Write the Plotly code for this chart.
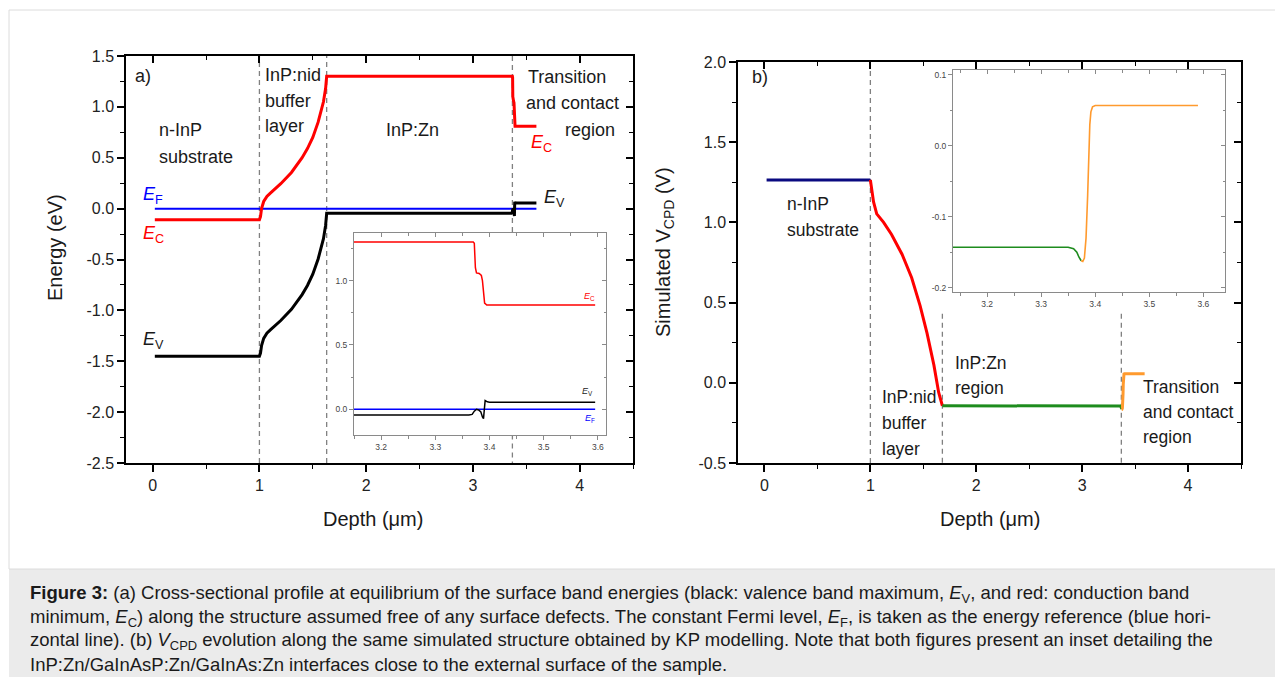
import plotly.graph_objects as go

FONT = "Liberation Sans, Arial, Helvetica, sans-serif"
W, H = 1275, 677

# ---------------- data ----------------
# Panel a: band edges (eV) vs depth (um)
ec_depth = [0.02, 1.0, 1.01, 1.02, 1.04, 1.07, 1.1, 1.15, 1.2, 1.3, 1.4, 1.45, 1.5, 1.55, 1.6, 1.62, 1.63,
            3.370, 3.372, 3.374, 3.376, 3.381, 3.385, 3.387, 3.389, 3.391, 3.395, 3.595]
ec_energy = [-0.11, -0.11, -0.08, 0.0, 0.07, 0.12, 0.15, 0.195, 0.245, 0.355, 0.50, 0.59, 0.70, 0.85, 1.05, 1.18, 1.30,
             1.30, 1.29, 1.10, 1.06, 1.055, 1.04, 1.00, 0.88, 0.825, 0.81, 0.81]
ev_depth = [0.02, 1.0, 1.01, 1.02, 1.04, 1.07, 1.1, 1.15, 1.2, 1.3, 1.4, 1.45, 1.5, 1.55, 1.6, 1.62, 1.63,
            3.362, 3.368, 3.372, 3.376, 3.380, 3.384, 3.387, 3.389, 3.3905, 3.392, 3.396, 3.40, 3.595]
ev_energy = [-1.45, -1.45, -1.42, -1.345, -1.275, -1.225, -1.195, -1.15, -1.10, -0.99, -0.845, -0.755, -0.645,
             -0.495, -0.295, -0.165, -0.045,
             -0.045, -0.04, -0.015, 0.0, -0.005, -0.02, -0.06, -0.073, 0.0, 0.068, 0.058, 0.055, 0.055]
ef_depth = [0.02, 3.595]
ef_energy = [0.0, 0.0]
a_boundaries = [1.0, 1.63, 3.37]

# Panel b: simulated V_CPD (V) vs depth (um)
sub_depth = [0.02, 1.0]
sub_vcpd = [1.265, 1.265]
buf_depth = [1.0, 1.01, 1.02, 1.03, 1.06, 1.125, 1.2, 1.3, 1.39, 1.47, 1.535, 1.6, 1.645, 1.68]
buf_vcpd = [1.265, 1.22, 1.16, 1.128, 1.053, 1.0, 0.925, 0.80, 0.655, 0.48, 0.31, 0.11, -0.06, -0.143]
zn_depth = [1.68, 3.35, 3.36, 3.366, 3.370, 3.374]
zn_vcpd = [-0.143, -0.143, -0.145, -0.150, -0.157, -0.162]
tr_depth = [3.374, 3.377, 3.380, 3.383, 3.386, 3.388, 3.390, 3.392, 3.395, 3.400, 3.59]
tr_vcpd = [-0.162, -0.163, -0.158, -0.130, -0.070, -0.010, 0.030, 0.048, 0.055, 0.057, 0.057]
b_boundaries = [1.0, 1.68, 3.37]

# Tick values / labels
x_ticks = [0, 1, 2, 3, 4]
x_labels = ["0", "1", "2", "3", "4"]
a_y_ticks = [-2.5, -2.0, -1.5, -1.0, -0.5, 0.0, 0.5, 1.0, 1.5]
a_y_labels = ["-2.5", "-2.0", "-1.5", "-1.0", "-0.5", "0.0", "0.5", "1.0", "1.5"]
b_y_ticks = [-0.5, 0.0, 0.5, 1.0, 1.5, 2.0]
b_y_labels = ["-0.5", "0.0", "0.5", "1.0", "1.5", "2.0"]
in_x_ticks = [3.2, 3.3, 3.4, 3.5, 3.6]
in_x_labels = ["3.2", "3.3", "3.4", "3.5", "3.6"]
ia_y_ticks = [0.0, 0.5, 1.0]
ia_y_labels = ["0.0", "0.5", "1.0"]
ib_y_ticks = [-0.2, -0.1, 0.0, 0.1]
ib_y_labels = ["-0.2", "-0.1", "0.0", "0.1"]

# ---------------- layout geometry ----------------
A_X = [126 / W, 633 / W]
A_Y = [1 - 463 / H, 1 - 56 / H]
B_X = [738 / W, 1241 / W]
B_Y = [1 - 463 / H, 1 - 62 / H]
IA_X = [354 / W, 606 / W]
IA_Y = [1 - 435 / H, 1 - 233 / H]
IB_X = [953 / W, 1225 / W]
IB_Y = [1 - 292 / H, 1 - 70 / H]

A_XR = [-0.25, 4.5]
A_YR = [-2.5, 1.5]
B_XR = [-0.25, 4.5]
B_YR = [-0.5, 2.0]
IA_XR = [3.15, 3.615]
IA_YR = [-0.2, 1.37]
IB_XR = [3.137, 3.64]
IB_YR = [-0.206, 0.107]

RED = "#ff0000"
BLUE = "#0000ff"
NAVY = "#0a0a80"
GREEN = "#1e8c1e"
ORANGE = "#ff9a2e"
DASH = "#808080"

fig = go.Figure()


def line(x, y, color, width, xa, ya, dash=None):
    fig.add_trace(go.Scatter(x=x, y=y, mode="lines", xaxis=xa, yaxis=ya,
                             line=dict(color=color, width=width, dash=dash),
                             showlegend=False, hoverinfo="skip"))


def dashed(bounds, y_full, y_parts, xa, ya):
    xs, ys = [], []
    for i, b in enumerate(bounds):
        for (y0, y1) in (y_parts[i] if i in y_parts else [y_full]):
            xs += [b, b, None]
            ys += [y0, y1, None]
    line(xs, ys, DASH, 1.3, xa, ya, dash="5px,4px")


# Panel a
dashed(a_boundaries, (A_YR[0], A_YR[1]), {2: [(A_YR[1], -0.24), (-2.22, A_YR[0])]}, "x", "y")
line(ef_depth, ef_energy, BLUE, 2, "x", "y")
line(ec_depth, ec_energy, RED, 3, "x", "y")
line(ev_depth, ev_energy, "black", 3, "x", "y")

# Inset a
line(ef_depth, ef_energy, BLUE, 1.5, "x2", "y2")
line(ec_depth, ec_energy, RED, 1.5, "x2", "y2")
line(ev_depth, ev_energy, "black", 1.5, "x2", "y2")

# Panel b
dashed(b_boundaries, (B_YR[0], B_YR[1]), {1: [(0.43, B_YR[0])], 2: [(0.43, B_YR[0])]}, "x3", "y3")
line(sub_depth, sub_vcpd, NAVY, 3, "x3", "y3")
line(buf_depth, buf_vcpd, RED, 3, "x3", "y3")
line(zn_depth, zn_vcpd, GREEN, 3, "x3", "y3")
line(tr_depth, tr_vcpd, ORANGE, 3, "x3", "y3")

# Inset b
line(zn_depth, zn_vcpd, GREEN, 1.6, "x4", "y4")
line(tr_depth, tr_vcpd, ORANGE, 1.6, "x4", "y4")

# dummy traces for mirrored (inward) top/right tick axes
for xa, ya in [("x5", "y"), ("x", "y5"), ("x6", "y3"), ("x3", "y6"),
               ("x7", "y2"), ("x2", "y7"), ("x8", "y4"), ("x4", "y8")]:
    fig.add_trace(go.Scatter(x=[None], y=[None], xaxis=xa, yaxis=ya, mode="lines",
                             showlegend=False, hoverinfo="skip"))


def axis(domain, rng, tv, tt, minor_dtick, anchor, color="black", lw=1.5, tl=7, mtl=4,
         fsize=16, fcolor="#222"):
    return dict(domain=domain, range=rng, anchor=anchor, tickmode="array", tickvals=tv, ticktext=tt,
                ticks="outside", ticklen=tl, tickwidth=lw, tickcolor=color, automargin=False,
                minor=dict(tickmode="linear", tick0=0, dtick=minor_dtick, ticks="outside",
                           ticklen=mtl, tickwidth=lw * 0.85, tickcolor=color, showgrid=False),
                showline=True, linecolor=color, linewidth=lw, showgrid=False, zeroline=False,
                tickfont=dict(size=fsize, color=fcolor, family=FONT), fixedrange=True)


def mirror(over, side, anchor, rng, tv, minor_dtick, color="black", lw=1.5, tl=7, mtl=4):
    return dict(overlaying=over, side=side, anchor=anchor, range=rng, tickmode="array", tickvals=tv,
                showticklabels=False, ticks="inside", ticklen=tl, tickwidth=lw, tickcolor=color,
                automargin=False,
                minor=dict(tickmode="linear", tick0=0, dtick=minor_dtick, ticks="inside",
                           ticklen=mtl, tickwidth=lw * 0.85, tickcolor=color, showgrid=False),
                showline=True, linecolor=color, linewidth=lw, showgrid=False, zeroline=False,
                fixedrange=True)


IN_COL = "#8a8a8a"
layout = dict(
    width=W, height=H, autosize=False,
    margin=dict(l=0, r=0, t=0, b=0, pad=0, autoexpand=False),
    paper_bgcolor="white", plot_bgcolor="white", showlegend=False,
    font=dict(family=FONT, color="#222", size=16),
    xaxis=axis(A_X, A_XR, x_ticks, x_labels, 0.5, "y"),
    yaxis=axis(A_Y, A_YR, a_y_ticks, a_y_labels, 0.25, "x"),
    xaxis2=axis(IA_X, IA_XR, in_x_ticks, in_x_labels, 0.05, "y2", color=IN_COL, lw=1, tl=4, mtl=2.5,
                fsize=8.5, fcolor="#444"),
    yaxis2=axis(IA_Y, IA_YR, ia_y_ticks, ia_y_labels, 0.25, "x2", color=IN_COL, lw=1, tl=4, mtl=2.5,
                fsize=8.5, fcolor="#444"),
    xaxis3=axis(B_X, B_XR, x_ticks, x_labels, 0.5, "y3"),
    yaxis3=axis(B_Y, B_YR, b_y_ticks, b_y_labels, 0.25, "x3"),
    xaxis4=axis(IB_X, IB_XR, in_x_ticks, in_x_labels, 0.05, "y4", color=IN_COL, lw=1, tl=4, mtl=2.5,
                fsize=8.5, fcolor="#444"),
    yaxis4=axis(IB_Y, IB_YR, ib_y_ticks, ib_y_labels, 0.05, "x4", color=IN_COL, lw=1, tl=4, mtl=2.5,
                fsize=8.5, fcolor="#444"),
    xaxis5=mirror("x", "top", "y", A_XR, x_ticks, 0.5),
    yaxis5=mirror("y", "right", "x", A_YR, a_y_ticks, 0.25),
    xaxis6=mirror("x3", "top", "y3", B_XR, x_ticks, 0.5),
    yaxis6=mirror("y3", "right", "x3", B_YR, b_y_ticks, 0.25),
    xaxis7=mirror("x2", "top", "y2", IA_XR, in_x_ticks, 0.05, color=IN_COL, lw=1, tl=4, mtl=2.5),
    yaxis7=mirror("y2", "right", "x2", IA_YR, ia_y_ticks, 0.25, color=IN_COL, lw=1, tl=4, mtl=2.5),
    xaxis8=mirror("x4", "top", "y4", IB_XR, in_x_ticks, 0.05, color=IN_COL, lw=1, tl=4, mtl=2.5),
    yaxis8=mirror("y4", "right", "x4", IB_YR, ib_y_ticks, 0.05, color=IN_COL, lw=1, tl=4, mtl=2.5),
)
fig.update_layout(**layout)

# ---------------- frame & caption background ----------------
fig.add_shape(type="rect", xref="paper", yref="paper", x0=9 / W, x1=1, y0=0, y1=1 - 569 / H,
              fillcolor="#ebebeb", line=dict(width=0), layer="below")
fig.add_shape(type="rect", xref="paper", yref="paper", x0=9 / W, x1=1.02, y0=1 - 569 / H, y1=1 - 10 / H,
              fillcolor="rgba(0,0,0,0)", line=dict(color="#dcdcdc", width=1), layer="below")

# ---------------- annotations ----------------
ann = []


def txt(text, x, y, xref, yref, size=18, color="#1a1a1a", xanchor="left", angle=0):
    ann.append(dict(text=text, x=x, y=y, xref=xref, yref=yref, xanchor=xanchor, yanchor="middle",
                    showarrow=False, textangle=angle, font=dict(size=size, color=color, family=FONT)))


# panel a labels
txt("a)", -0.185, 1.30, "x", "y")
txt("n-InP", 0.04, 0.77, "x", "y")
txt("substrate", 0.04, 0.51, "x", "y")
txt("InP:nid", 1.03, 1.31, "x", "y")
txt("buffer", 1.03, 1.06, "x", "y")
txt("layer", 1.03, 0.81, "x", "y")
txt("InP:Zn", 2.43, 0.77, "x", "y", xanchor="center")
txt("Transition", 3.50, 1.29, "x", "y")
txt("and contact", 3.48, 1.04, "x", "y")
txt("region", 3.84, 0.77, "x", "y")
txt("<i>E</i><sub>F</sub>", -0.11, 0.13, "x", "y", color=BLUE)
txt("<i>E</i><sub>C</sub>", -0.11, -0.25, "x", "y", color=RED)
txt("<i>E</i><sub>V</sub>", -0.11, -1.30, "x", "y")
txt("<i>E</i><sub>C</sub>", 3.53, 0.64, "x", "y", color=RED)
txt("<i>E</i><sub>V</sub>", 3.65, 0.10, "x", "y")
# inset a labels
txt("<i>E</i><sub>C</sub>", 3.585, 0.88, "x2", "y2", size=9, color=RED, xanchor="center")
txt("<i>E</i><sub>V</sub>", 3.58, 0.14, "x2", "y2", size=9, color="#222", xanchor="center")
txt("<i>E</i><sub>F</sub>", 3.586, -0.072, "x2", "y2", size=9, color=BLUE, xanchor="center")

# panel b labels
txt("b)", -0.14, 1.906, "x3", "y3")
txt("n-InP", 0.19, 1.115, "x3", "y3", size=17.5)
txt("substrate", 0.19, 0.952, "x3", "y3", size=17.5)
txt("InP:nid", 1.09, -0.087, "x3", "y3", size=17.5)
txt("buffer", 1.09, -0.25, "x3", "y3", size=17.5)
txt("layer", 1.09, -0.41, "x3", "y3", size=17.5)
txt("InP:Zn", 1.78, 0.125, "x3", "y3", size=17.5)
txt("region", 1.78, -0.033, "x3", "y3", size=17.5)
txt("Transition", 3.56, -0.024, "x3", "y3", size=17.5)
txt("and contact", 3.56, -0.18, "x3", "y3", size=17.5)
txt("region", 3.56, -0.336, "x3", "y3", size=17.5)

# axis titles
txt("Energy (eV)", 55 / W, 1 - 248 / H, "paper", "paper", size=20, xanchor="center", angle=-90)
txt("Depth (\u03bcm)", 373 / W, 1 - 519 / H, "paper", "paper", size=20, xanchor="center")
txt("Simulated V<sub>CPD</sub> (V)", 664 / W, 1 - 252 / H, "paper", "paper", size=20, xanchor="center",
    angle=-90)
txt("Depth (\u03bcm)", 990 / W, 1 - 519 / H, "paper", "paper", size=20, xanchor="center")

# caption
caption_lines = [
    "<b>Figure 3:</b> (a) Cross-sectional profile at equilibrium of the surface band energies (black: valence band maximum, <i>E</i><sub>V</sub>, and red: conduction band",
    "minimum, <i>E</i><sub>C</sub>) along the structure assumed free of any surface defects. The constant Fermi level, <i>E</i><sub>F</sub>, is taken as the energy reference (blue hori-",
    "zontal line). (b) <i>V</i><sub>CPD</sub> evolution along the same simulated structure obtained by KP modelling. Note that both figures present an inset detailing the",
    "InP:Zn/GaInAsP:Zn/GaInAs:Zn interfaces close to the external surface of the sample.",
]
cap_y = [594, 617.5, 641, 664.5]
for t, yy in zip(caption_lines, cap_y):
    txt(t, 28 / W, 1 - yy / H, "paper", "paper", size=18.5, color="#1a1a1a")

fig.update_layout(annotations=ann)
fig.write_html("out.html", config={"displayModeBar": False, "responsive": False},
               post_script="document.body.style.margin='0';document.body.style.padding='0';"
                           "document.documentElement.style.overflow='hidden';")
